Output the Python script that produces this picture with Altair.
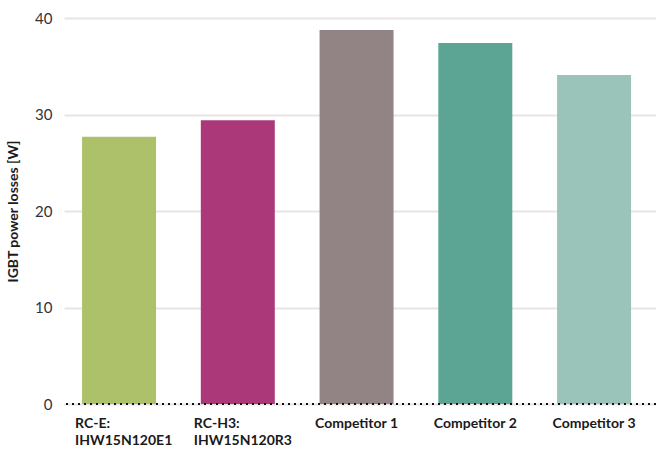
import altair as alt
import pandas as pd

categories = ["RC-E:\nIHW15N120E1", "RC-H3:\nIHW15N120R3", "Competitor 1", "Competitor 2", "Competitor 3"]
values = [27.7, 29.4, 38.75, 37.4, 34.1]
colors = ["#adc16b", "#ab3979", "#928385", "#5ca595", "#9ac4b9"]
y_ticks = [0, 10, 20, 30, 40]

df = pd.DataFrame({"cat": categories, "val": values, "color": colors})

FONT = "Lato"

x_enc = alt.X(
    "cat:N",
    sort=categories,
    title=None,
    scale=alt.Scale(paddingInner=0.377, paddingOuter=0.181, align=0.42),
    axis=alt.Axis(
        labelAngle=0,
        labelFont=FONT,
        labelFontWeight="bold",
        labelFontSize=14,
        labelColor="#1a1a1a",
        labelPadding=12,
        labelLineHeight=17,
        labelExpr="split(datum.value, '\\n')",
        labelAlign=alt.condition("indexof(datum.value, ':') >= 0", alt.value("left"), alt.value("center")),
        labelOffset=alt.condition("indexof(datum.value, ':') >= 0", alt.value(-44), alt.value(0)),
        domain=False,
        ticks=False,
        grid=False,
    ),
)

bars = alt.Chart(df).mark_bar(y2Offset=-2).encode(
    x=x_enc,
    y=alt.Y(
        "val:Q",
        title="IGBT power losses [W]",
        scale=alt.Scale(domain=[0, 40], nice=False),
        axis=alt.Axis(
            values=y_ticks,
            labelFont=FONT,
            labelFontSize=15,
            labelColor="#333333",
            labelPadding=12,
            titleFont=FONT,
            titleFontSize=14,
            titleFontWeight="bold",
            titleColor="#1a1a1a",
            titlePadding=14,
            domain=False,
            ticks=False,
            grid=True,
            gridColor="#e8e3e5",
            gridWidth=2,
        ),
    ),
    color=alt.Color("color:N", scale=None),
)

base_line = alt.Chart(pd.DataFrame({"y": [0]})).mark_rule(
    color="#111111", strokeWidth=2.2, strokeDash=[2, 4]
).encode(y="y:Q")

chart = alt.layer(bars, base_line).properties(
    width=592,
    height=386,
    autosize=alt.AutoSizeParams(type="none"),
    padding={"left": 64, "top": 18, "right": 0, "bottom": 45},
).configure_view(stroke=None)

chart.save("out.html", embed_options={"renderer": "svg", "actions": False})
